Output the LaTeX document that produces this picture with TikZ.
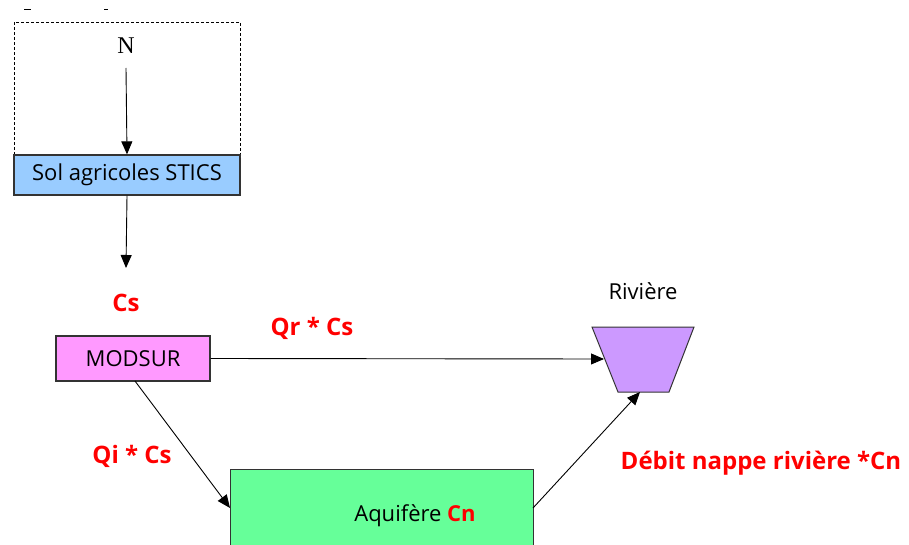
\documentclass[tikz,border=0pt]{standalone}
\usepackage{fontspec}
\setmainfont{Open Sans}
\newfontfamily\seriffont{Liberation Serif}
\usetikzlibrary{arrows.meta}
\definecolor{solblue}{HTML}{99CCFF}
\definecolor{modpink}{HTML}{FF99FF}
\definecolor{rivviolet}{HTML}{CC99FF}
\definecolor{aqgreen}{HTML}{66FF99}
\definecolor{labred}{HTML}{FF0000}
\begin{document}
\begin{tikzpicture}[x=1pt,y=-1pt,
  boxstyle/.style={draw=black!80,line width=1.3pt,inner sep=0pt,font=\fontsize{22}{25}\selectfont},
  arr/.style={-{Triangle[length=13pt,width=11pt]},line width=0.9pt},
  redlab/.style={text=labred,font=\fontsize{24}{27}\selectfont\bfseries}]
\useasboundingbox (0,0) rectangle (909,545);
\begin{scope}
\clip (0,0) rectangle (909,545);
% top dash artifacts
\draw[line width=1pt] (24,10) -- (31,10);
\draw[line width=1pt] (104,10) -- (108,10);
% dashed frame
\draw[line width=0.7pt,dash pattern=on 3pt off 2pt] (14,155) -- (14,22) -- (240,22) -- (240,155);
\node[font=\seriffont\fontsize{24}{27}\selectfont] (n) at (126,46) {N};
\coordinate (nstart) at (126,68);
\node[boxstyle,fill=solblue,minimum width=226pt,minimum height=40pt] (sol) at (127,175) {Sol agricoles STICS};
\draw[arr] (nstart) -- (sol.north);
\coordinate (csend) at (126,268);
\draw[arr] (sol.south) -- (csend);
\node[redlab] (cs) at (126,303) {Cs};
\node[boxstyle,fill=modpink,minimum width=154pt,minimum height=45pt] (modsur) at (133,358.5) {MODSUR};
% trapezoid river
\draw[fill=rivviolet,draw=black!80,line width=1pt] (592,327) -- (694,327) -- (669,392) -- (618,392) -- cycle;
\coordinate (rivleft) at (604,359);
\coordinate (rivbottom) at (640,392);
\node[font=\fontsize{22}{25}\selectfont] (riv) at (643,291) {Rivière};
\node[redlab] (qr) at (312,328) {Qr * Cs};
\draw[arr] (modsur.east) -- (rivleft);
\node[boxstyle,fill=aqgreen,minimum width=303pt,minimum height=110pt,anchor=north west] (aq) at (230,469) {};
\node[font=\fontsize{22}{25}\selectfont] (aqlab) at (415,516) {Aquifère \textcolor{labred}{\bfseries Cn}};
\coordinate (modbot) at (135,381);
\coordinate (aqin) at (230,508);
\draw[arr] (modbot) -- (aqin);
\node[redlab] (qi) at (132,456) {Qi * Cs};
\coordinate (aqout) at (533,508);
\draw[arr] (aqout) -- (rivbottom);
\node[redlab] (deb) at (761,463) {Débit nappe rivière *Cn};
\end{scope}
\end{tikzpicture}
\end{document}
